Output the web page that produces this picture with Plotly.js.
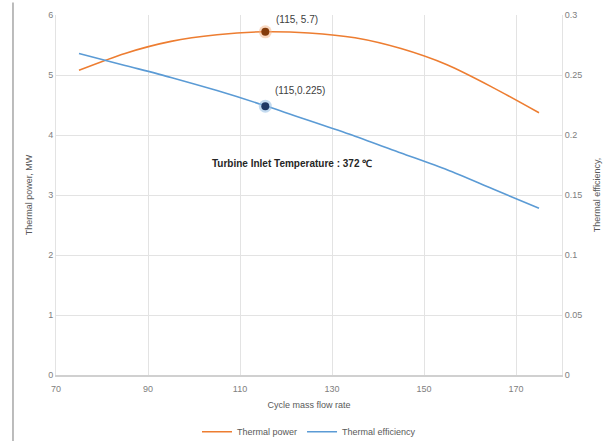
<!DOCTYPE html>
<html>
<head>
<meta charset="utf-8">
<script src="https://cdn.plot.ly/plotly-3.0.1.min.js"></script>
<style>
html,body{margin:0;padding:0;background:#fff;}
#chart{width:614px;height:441px;}
</style>
</head>
<body>
<div id="chart"></div>
<script>
// Data
const massFlow = [75, 85, 95, 105, 115, 125, 135, 145, 155, 165, 175];
const thermalPower = [5.08, 5.36, 5.56, 5.67, 5.72, 5.70, 5.62, 5.44, 5.17, 4.79, 4.37];
const thermalEfficiency = [0.268, 0.258, 0.248, 0.237, 0.225, 0.212, 0.199, 0.185, 0.171, 0.155, 0.139];
const highlightX = [115.5];
const highlightPower = [5.72];
const highlightEff = [0.224];
const xTicks = [70, 90, 110, 130, 150, 170];
const yLeftTicks = [0, 1, 2, 3, 4, 5, 6];
const yRightTicks = [0, 0.05, 0.1, 0.15, 0.2, 0.25, 0.3];
const yRightTickText = ['0', '0.05', '0.1', '0.15', '0.2', '0.25', '0.3'];

const orange = '#ED7D31';
const blue = '#5B9BD5';
const gridC = '#E3E3E3';
const tickFont = {family: 'Liberation Sans, Arial, sans-serif', size: 9, color: '#808080'};

const traces = [
  {x: massFlow, y: thermalPower, name: 'Thermal power', mode: 'lines',
   line: {color: orange, width: 1.6, shape: 'spline', smoothing: 0.8}, yaxis: 'y'},
  {x: massFlow, y: thermalEfficiency, name: 'Thermal efficiency', mode: 'lines',
   line: {color: blue, width: 1.6, shape: 'spline', smoothing: 0.8}, yaxis: 'y2'},
  {x: highlightX, y: highlightPower, mode: 'markers', showlegend: false, hoverinfo: 'skip',
   marker: {color: 'rgba(244,177,131,0.5)', size: 13}, yaxis: 'y'},
  {x: highlightX, y: highlightPower, mode: 'markers', showlegend: false,
   marker: {color: '#843C0C', size: 8}, yaxis: 'y'},
  {x: highlightX, y: highlightEff, mode: 'markers', showlegend: false, hoverinfo: 'skip',
   marker: {color: 'rgba(157,195,230,0.6)', size: 13}, yaxis: 'y2'},
  {x: highlightX, y: highlightEff, mode: 'markers', showlegend: false,
   marker: {color: '#1F3864', size: 8}, yaxis: 'y2'}
];

const layout = {
  width: 614, height: 441,
  margin: {l: 56, r: 52, t: 15, b: 66},
  paper_bgcolor: '#fff', plot_bgcolor: '#fff',
  font: {family: 'Liberation Sans, Arial, sans-serif', color: '#595959'},
  showlegend: true,
  legend: {orientation: 'h', x: 0.5, xanchor: 'center', yref: 'container', y: 0.021, yanchor: 'middle',
           font: {size: 9, color: '#595959'}, tracegroupgap: 0},
  xaxis: {range: [70, 180], tickvals: xTicks, showgrid: true, gridcolor: gridC, gridwidth: 1,
          zeroline: false, showline: true, linecolor: '#D0D0D0', linewidth: 1.5,
          ticks: 'outside', ticklen: 5, tickcolor: 'rgba(0,0,0,0)', tickfont: tickFont,
          title: {text: 'Cycle mass flow rate', font: {size: 9, color: '#595959'}, standoff: 8}},
  yaxis: {range: [0, 6], tickvals: yLeftTicks, showgrid: true, gridcolor: gridC, gridwidth: 1,
          zeroline: false, showline: true, linecolor: gridC, ticks: '', tickfont: tickFont,
          title: {text: 'Thermal power, MW', font: {size: 9, color: '#595959'}, standoff: 14}},
  yaxis2: {range: [0, 0.3], tickvals: yRightTicks, ticktext: yRightTickText, overlaying: 'y', side: 'right',
           showgrid: false, zeroline: false, showline: true, linecolor: gridC, ticks: '', tickfont: tickFont,
           title: {text: 'Thermal efficiency,', font: {size: 9, color: '#595959'}, standoff: 12}},
  annotations: [
    {x: 122.4, y: 5.92, xref: 'x', yref: 'y', text: '(115, 5.7)', showarrow: false,
     font: {size: 10, color: '#404040'}},
    {x: 123, y: 4.75, xref: 'x', yref: 'y', text: '(115,0.225)', showarrow: false,
     font: {size: 10, color: '#404040'}},
    {x: 121.3, y: 3.53, xref: 'x', yref: 'y', text: '<b>Turbine Inlet Temperature : 372 ℃</b>', showarrow: false,
     font: {size: 10, color: '#262626'}}
  ],
  shapes: [
    {type: 'line', xref: 'paper', yref: 'paper', x0: -0.085, x1: -0.085, y0: -0.19, y1: 1.035,
     line: {color: '#A6A6A6', width: 1.5}}
  ]
};

Plotly.newPlot('chart', traces, layout, {displayModeBar: false, staticPlot: true});
</script>
</body>
</html>
